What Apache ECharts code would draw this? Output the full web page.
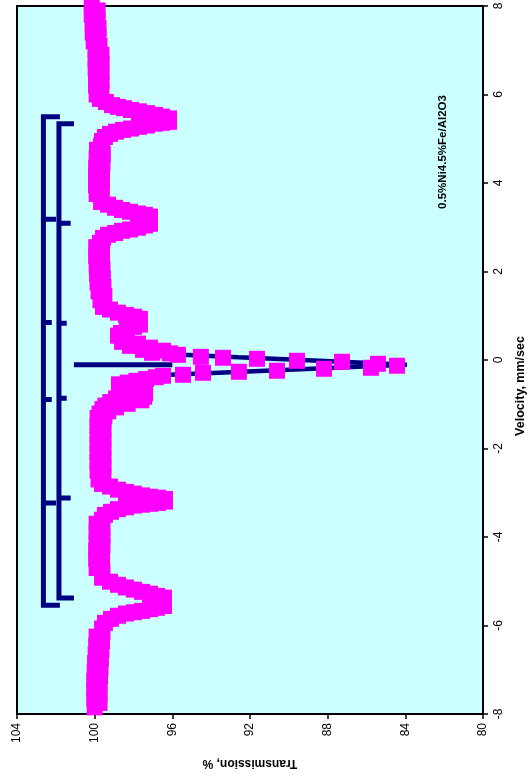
<!DOCTYPE html>
<html><head><meta charset="utf-8">
<script src="https://cdn.jsdelivr.net/npm/echarts@6/dist/echarts.min.js"></script>
<style>html,body{margin:0;padding:0;background:#fff}#c{width:532px;height:778px}</style>
</head><body><div id="c"></div>
<script>
// ---- data ----
const transmissionRange = [80, 104];
const transmissionStep = 4;
const velocityRange = [-8, 8];
const velocityStep = 2;
const sampleLabel = '0.5%Ni4.5%Fe/Al2O3';
const transmissionTitle = 'Transmission, %';
const velocityTitle = 'Velocity, mm/sec';

const spectrumVelocity = [
  8.00,7.90,7.80,7.70,7.60,7.50,7.40,7.30,7.20,7.10,7.00,6.90,6.80,6.70,6.60,6.50,6.40,6.30,6.20,6.10,6.00,
  5.90,5.83,5.76,5.72,5.69,5.65,5.62,5.58,5.54,5.50,5.46,5.38,5.36,5.34,5.30,5.27,5.23,5.20,5.16,5.11,5.04,4.95,4.84,
  4.75,4.65,4.55,4.45,4.35,4.25,4.15,4.05,3.95,3.85,3.75,
  3.57,3.51,3.44,3.39,3.35,3.31,3.28,3.24,3.17,3.08,3.04,2.99,2.95,2.92,2.87,2.83,2.76,2.65,
  2.55,2.45,2.35,2.25,2.15,2.05,1.95,1.85,1.75,1.65,1.55,1.45,1.35,
  1.20,1.14,1.07,1.02,0.98,0.93,0.86,0.80,0.75,0.68,0.61,0.55,0.48,0.41,0.37,0.32,0.28,0.23,0.21,0.163,0.15,
  0.117,0.072,0.05,0.027,-0.018,-0.04,-0.086,-0.13,-0.176,-0.198,-0.243,-0.266,-0.289,-0.334,-0.356,
  -0.39,-0.43,-0.47,-0.51,-0.55,-0.59,-0.63,-0.67,-0.71,-0.75,-0.79,-0.83,-0.87,-0.91,-0.95,-0.99,-1.03,-1.07,-1.11,-1.16,-1.21,-1.26,-1.31,
  -1.40,-1.50,-1.60,-1.70,-1.80,-1.90,-2.00,-2.10,-2.20,-2.30,-2.40,-2.50,-2.60,-2.70,
  -2.80,-2.86,-2.93,-2.98,-3.02,-3.06,-3.09,-3.11,-3.14,-3.17,-3.20,-3.23,-3.25,-3.27,-3.29,-3.33,-3.37,-3.43,-3.50,-3.61,
  -3.70,-3.80,-3.90,-4.00,-4.10,-4.20,-4.30,-4.40,-4.50,-4.60,-4.70,-4.80,
  -4.92,-5.01,-5.08,-5.14,-5.19,-5.24,-5.28,-5.33,-5.37,-5.44,-5.51,-5.56,-5.60,-5.63,-5.67,-5.70,-5.73,-5.78,-5.85,-5.94,-6.07,
  -6.15,-6.25,-6.35,-6.45,-6.55,-6.65,-6.75,-6.85,-6.95,-7.05,-7.15,-7.25,-7.35,-7.45,-7.55,-7.65,-7.75,-7.85
];
const spectrumTransmission = [
  100.15,99.85,100.15,99.85,100.10,99.80,100.10,99.80,100.05,99.75,99.95,99.65,99.95,99.65,99.95,99.65,99.93,99.65,99.93,99.65,99.90,
  99.73,99.42,99.11,98.80,98.49,98.13,97.72,97.31,96.89,96.53,96.17,96.17,96.53,96.89,97.31,97.72,98.13,98.54,98.90,99.21,99.47,99.62,99.67,
  99.88,99.58,99.90,99.60,99.92,99.62,99.93,99.63,99.93,99.63,99.90,
  99.67,99.31,98.95,98.59,98.18,97.77,97.41,97.15,97.15,97.15,97.41,97.77,98.18,98.59,98.95,99.31,99.57,99.73,
  99.92,99.62,99.92,99.62,99.90,99.60,99.88,99.58,99.85,99.55,99.80,99.50,99.70,
  99.57,99.21,98.80,98.39,97.98,97.67,97.67,97.67,97.98,98.34,98.64,98.80,98.39,98.59,97.77,98.18,97.15,97.51,96.48,97.05,96.12,
  95.71,94.53,93.39,91.64,89.58,87.26,85.41,84.43,85.77,88.19,90.61,92.57,94.42,95.45,96.48,
  96.85,97.35,97.85,98.30,98.75,97.75,98.40,97.50,98.20,97.40,98.60,97.45,98.90,97.60,99.20,98.30,99.45,98.90,99.60,99.30,99.75,99.50,99.85,
  99.55,99.85,99.55,99.85,99.55,99.85,99.55,99.85,99.55,99.85,99.55,99.85,99.55,99.80,
  99.62,99.21,98.80,98.39,97.98,97.56,97.15,96.74,96.38,96.38,96.38,96.74,97.15,97.56,97.98,98.39,98.80,99.16,99.47,99.62,
  99.90,99.60,99.90,99.60,99.90,99.60,99.92,99.62,99.92,99.62,99.90,99.60,
  99.62,99.21,98.80,98.39,97.98,97.56,97.15,96.79,96.43,96.43,96.43,96.43,96.79,97.15,97.56,97.98,98.39,98.80,99.16,99.47,99.62,
  99.60,99.90,99.62,99.92,99.65,99.95,99.68,99.98,99.70,100.00,99.72,100.02,99.75,100.02,99.75,100.02,99.75,100.00
];

const fitVelocity = [8.0,7.0,6.0,5.90,5.76,5.69,5.62,5.54,5.46,5.38,5.30,5.23,5.16,5.04,4.84,4.0,3.57,3.44,3.35,3.28,3.17,3.04,2.95,2.87,2.76,2.5,1.5,1.20,1.07,0.98,0.86,0.75,0.61,0.45,0.32,0.22,0.117,0.06,0.005,-0.05,-0.108,-0.147,-0.19,-0.231,-0.28,-0.334,-0.40,-0.50,-0.60,-0.75,-0.85,-0.95,-1.10,-1.4,-2.70,-2.80,-2.93,-3.02,-3.09,-3.17,-3.25,-3.29,-3.37,-3.50,-3.61,-4.8,-4.92,-5.08,-5.19,-5.28,-5.37,-5.51,-5.63,-5.70,-5.78,-5.94,-6.07,-7.0,-8.0];
const fitTransmission = [99.95,99.85,99.8,99.73,99.11,98.49,97.72,96.89,96.2,96.2,97.31,98.13,98.90,99.47,99.67,99.75,99.67,98.95,98.18,97.41,97.1,97.41,98.18,98.95,99.57,99.75,99.68,99.57,98.80,97.98,97.67,97.98,98.64,98.55,97.95,97.0,95.45,92.6,89.6,86.7,83.92,86.2,88.5,90.6,93.3,96.12,97.0,98.1,98.2,97.6,97.55,98.4,99.4,99.7,99.7,99.62,98.80,97.98,97.15,96.4,97.15,97.98,98.80,99.47,99.62,99.75,99.62,98.80,97.98,97.15,96.43,96.43,97.15,97.98,98.80,99.47,99.62,99.85,99.88];

// stick diagrams of the two sextets
const outerSextetVelocity = [5.50, 3.18, 0.85, -0.89, -3.23, -5.54];
const outerSextetBase = 102.64;
const outerSextetTickEnd = [101.79, 101.99, 102.21, 102.21, 101.99, 101.79];
const innerSextetVelocity = [5.34, 3.09, 0.83, -0.865, -3.12, -5.38];
const innerSextetBase = 101.84;
const innerSextetTickEnd = [101.065, 101.235, 101.44, 101.44, 101.235, 101.065];
// singlet position marker
const singletVelocity = [-0.108, -0.108];
const singletTransmission = [101.07, 96.0];

// ---- build ----
const NAVY = '#000080', MAGENTA = '#FF00FF';
const FONT = "'Liberation Sans', Arial, sans-serif";
const pairs = (t, v) => v.map((vv, i) => [t[i], vv]);

function stickSeries(vel, base, ends) {
  const n = vel.length;
  const out = [];
  const style = { color: NAVY, width: 5, cap: 'butt', join: 'miter' };
  out.push({
    type: 'line', symbol: 'none', silent: true, z: 3, lineStyle: style,
    data: [[ends[0], vel[0]], [base, vel[0]], [base, vel[n - 1]], [ends[n - 1], vel[n - 1]]]
  });
  for (let i = 1; i < n - 1; i++) {
    out.push({
      type: 'line', symbol: 'none', silent: true, z: 3, lineStyle: style,
      data: [[base, vel[i]], [ends[i], vel[i]]]
    });
  }
  return out;
}

const chart = echarts.init(document.getElementById('c'), null, { renderer: 'canvas' });
const option = {
  animation: false,
  backgroundColor: '#ffffff',
  grid: {
    left: 17, right: 49, top: 6, bottom: 64,
    show: true, backgroundColor: '#CCFFFF', borderColor: '#000', borderWidth: 2,
    containLabel: false, outerBoundsMode: 'none'
  },
  xAxis: {
    type: 'value', min: transmissionRange[0], max: transmissionRange[1], interval: transmissionStep,
    inverse: true, position: 'bottom',
    axisLine: { show: true, onZero: false, lineStyle: { color: '#000', width: 2 } },
    axisTick: { show: true, length: 5, lineStyle: { color: '#000', width: 1.5 } },
    splitLine: { show: false },
    axisLabel: { rotate: 90, margin: 9, color: '#000', fontSize: 12, fontFamily: FONT },
    name: transmissionTitle, nameLocation: 'middle', nameRotate: 180, nameGap: 43,
    nameTextStyle: { color: '#000', fontSize: 12, fontWeight: 'bold', fontFamily: FONT }
  },
  yAxis: {
    type: 'value', min: velocityRange[0], max: velocityRange[1], interval: velocityStep,
    position: 'right',
    axisLine: { show: true, onZero: false, lineStyle: { color: '#000', width: 2 } },
    axisTick: { show: true, length: 5, lineStyle: { color: '#000', width: 1.5 } },
    splitLine: { show: false },
    axisLabel: { rotate: 90, margin: 10, color: '#000', fontSize: 12, fontFamily: FONT }
  },
  graphic: [{
    type: 'text', x: 443, y: 152, rotation: Math.PI / 2, silent: true,
    style: { text: sampleLabel, fill: '#000', font: "bold 11.5px 'Liberation Sans', Arial, sans-serif",
      textAlign: 'center', textVerticalAlign: 'middle' }
  }, {
    type: 'text', x: 521, y: 386, rotation: Math.PI / 2, silent: true,
    style: { text: velocityTitle, fill: '#000', font: "bold 12.5px 'Liberation Sans', Arial, sans-serif",
      textAlign: 'center', textVerticalAlign: 'middle' }
  }],
  series: [
    { type: 'line', name: 'fit', symbol: 'none', silent: true, z: 2,
      lineStyle: { color: NAVY, width: 4.5 }, data: pairs(fitTransmission, fitVelocity) },
    { type: 'line', name: 'singlet', symbol: 'none', silent: true, z: 2,
      lineStyle: { color: NAVY, width: 5, cap: 'butt' }, data: pairs(singletTransmission, singletVelocity) },
    ...stickSeries(outerSextetVelocity, outerSextetBase, outerSextetTickEnd),
    ...stickSeries(innerSextetVelocity, innerSextetBase, innerSextetTickEnd),
    { type: 'scatter', name: 'spectrum', symbol: 'rect', symbolSize: 16, clip: false, silent: true, z: 4,
      itemStyle: { color: MAGENTA, opacity: 1 }, data: pairs(spectrumTransmission, spectrumVelocity) }
  ]
};
if (spectrumVelocity.length !== spectrumTransmission.length) console.error('spectrum length mismatch', spectrumVelocity.length, spectrumTransmission.length);
if (fitVelocity.length !== fitTransmission.length) console.error('fit length mismatch');
chart.setOption(option);
</script></body></html>
